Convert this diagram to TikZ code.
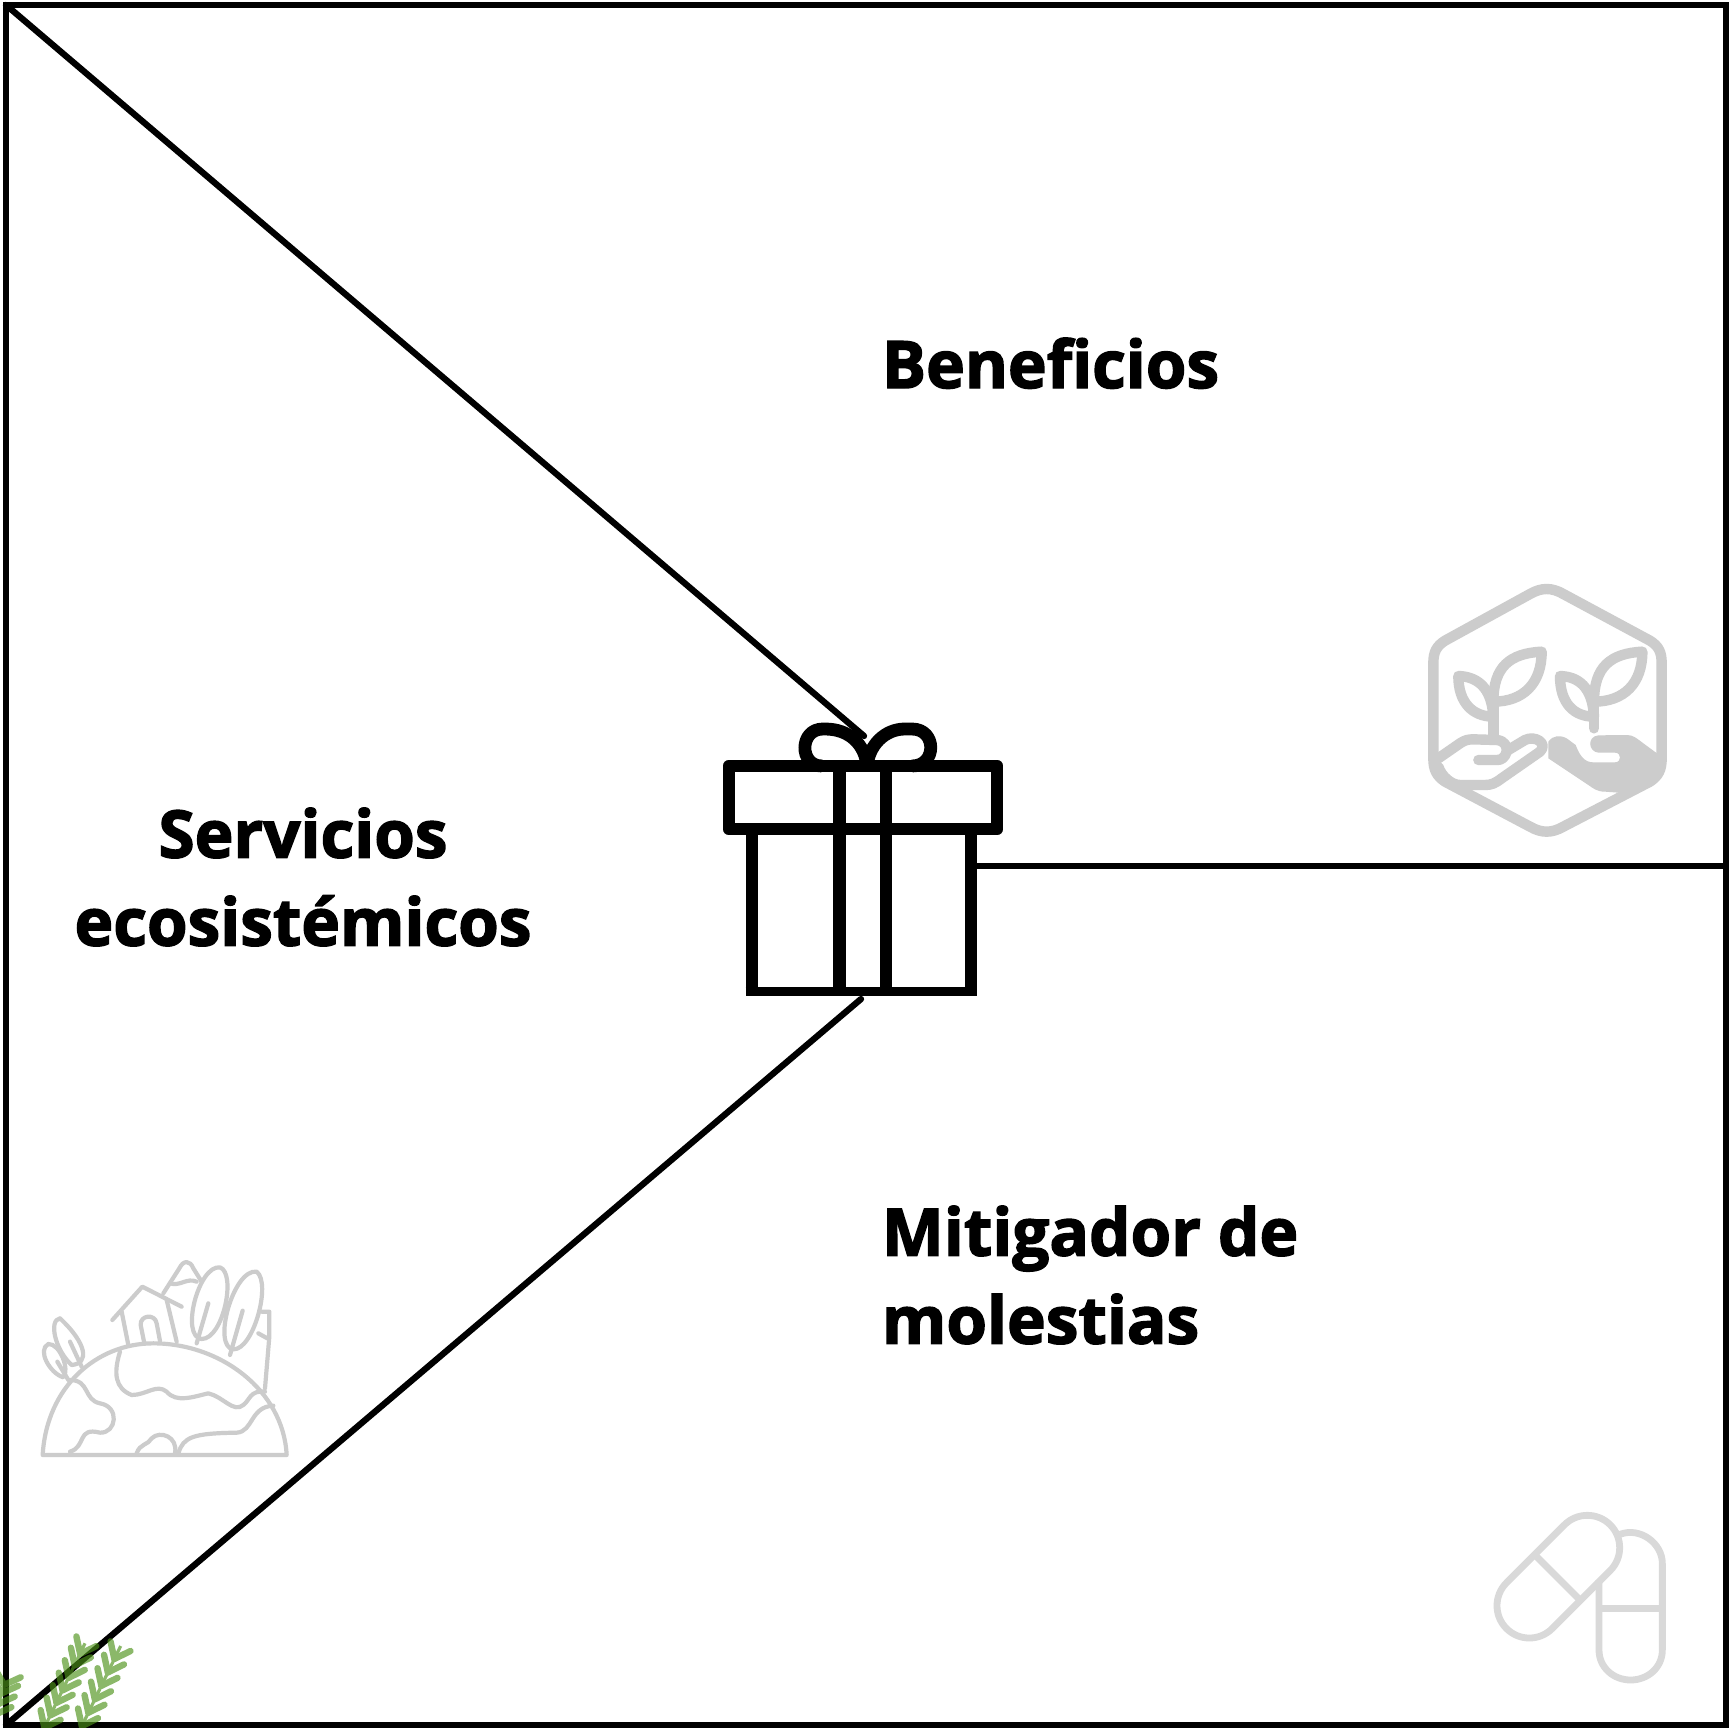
\documentclass[tikz,border=0pt]{standalone}
\usepackage{fontspec}
\usetikzlibrary{calc}
\setmainfont{Open Sans}[BoldFeatures={FakeBold=2.2}]
\definecolor{hexgray}{HTML}{CCCCCC}
\definecolor{pillgray}{HTML}{D9D9D9}
\definecolor{sprig}{RGB}{77,146,26}
\tikzset{
  frameline/.style={draw=black,line width=3.15pt,line join=miter},
  giftline/.style={draw=black,line width=6.4pt,line join=round},
  hexline/.style={draw=hexgray,line width=5.2pt,line cap=round,line join=round},
  earthline/.style={draw=hexgray,line width=2.1pt,line cap=round,line join=round},
  pillline/.style={draw=pillgray,line width=3.4pt,line join=round},
  label/.style={font=\fontsize{32.8}{44}\selectfont\bfseries,text=black,inner sep=0pt,outer sep=0pt},
  leaflet/.style={draw=sprig,line width=3.2pt,line cap=round},
  stem/.style={draw=sprig,line width=1.6pt}
}
\newcommand{\leafrow}[5]{% A, B, list, length, angle
  \foreach \t in {#3}{
    \coordinate (P) at ($(#1)!\t!(#2)$);
    \draw[leaflet] (P) -- ($(P)!#4!#5:(#2)$);
    \draw[leaflet] (P) -- ($(P)!#4!-#5:(#2)$);
  }
}
\begin{document}
\begin{tikzpicture}[x=0.5pt,y=-0.5pt]
\useasboundingbox (0,0) rectangle (1729,1728);
\fill[white] (0,0) rectangle (1729,1728);
% frame
\coordinate (tl) at (6,5);
\coordinate (tr) at (1726,5);
\coordinate (br) at (1726,1725);
\coordinate (bl) at (6,1725);
\coordinate (bowtip) at (864,736);
\coordinate (giftbase) at (861,999);
\coordinate (giftside) at (975,866);
\coordinate (rightmid) at (1726,866);
\draw[frameline] (tl) -- (tr) -- (br) -- (bl) -- cycle;
\draw[frameline,line cap=round] (tl) -- (bowtip);
\draw[frameline,line cap=round] (bl) -- (giftbase);
\draw[frameline] (giftside) -- (rightmid);
% gift
\draw[giftline] (729,766) rectangle (997,829);
\draw[giftline] (752,829) -- (752,993);
\draw[giftline] (971,829) -- (971,993);
\draw[draw=black,line width=4.5pt] (745.6,991.5) -- (977.4,991.5);
\draw[giftline] (839.5,766) -- (839.5,990);
\draw[giftline] (886,766) -- (886,990);
\draw[giftline] (867,766) .. controls (865,745) and (850,729) .. (825,729) -- (823,729) .. controls (799,729) and (799,766) .. (822,766);
\draw[giftline] (867,766) .. controls (869,745) and (885,729) .. (905,729) -- (912,729) .. controls (937,729) and (937,766) .. (912,766);
% hexagon icon
\begin{scope}[shift={(1410,570)},scale=1/3]
\draw[hexline] (360,72) .. controls (395,52) and (425,52) .. (460,72) -- (720,212) .. controls (745,228) and (755,245) .. (755,280) -- (755,565) .. controls (755,600) and (745,618) .. (720,635) -- (460,770) .. controls (425,790) and (395,790) .. (360,770) -- (105,635) .. controls (80,618) and (70,600) .. (70,565) -- (70,280) .. controls (70,245) and (80,228) .. (105,212) -- cycle;
% left hand
\draw[hexline] (85,565) -- (150,520) .. controls (165,510) and (175,508) .. (190,508) -- (260,510) .. controls (285,512) and (292,530) .. (290,545) .. controls (285,562) and (275,570) .. (262,570) -- (205,570);
\draw[hexline] (295,540) -- (345,510) .. controls (375,495) and (415,520) .. (390,545) -- (275,625) .. controls (255,640) and (245,645) .. (225,645) -- (150,645) .. controls (125,645) and (95,620) .. (85,590);
% right hand (filled)
\fill[hexgray] (415,515) .. controls (430,495) and (450,495) .. (470,505) -- (497,525) .. controls (510,560) and (525,577) .. (550,577) -- (615,577) .. controls (635,577) and (635,548) .. (615,548) -- (565,548) .. controls (535,545) and (530,500) .. (565,496) -- (650,495) .. controls (670,495) and (680,505) .. (700,520) -- (745,553) -- (755,590) .. controls (745,620) and (730,630) .. (700,645) -- (625,668) -- (585,665) .. controls (560,665) and (550,655) .. (535,645) -- (415,565) -- cycle;
% left sprout
\draw[hexline] (250,500) -- (250,400);
\draw[hexline] (250,395) .. controls (250,290) and (300,250) .. (395,245) .. controls (395,340) and (340,395) .. (250,395) -- cycle;
\draw[hexline] (250,440) .. controls (190,440) and (145,400) .. (145,318) .. controls (200,320) and (245,350) .. (250,440) -- cycle;
% right sprout
\draw[hexline] (552,475) -- (552,400);
\draw[hexline] (552,395) .. controls (552,290) and (602,250) .. (697,245) .. controls (697,340) and (642,395) .. (552,395) -- cycle;
\draw[hexline] (552,440) .. controls (492,440) and (450,400) .. (450,318) .. controls (505,320) and (547,350) .. (552,440) -- cycle;
\end{scope}
% earth icon
\begin{scope}[shift={(20,1240)},scale=1/3]
\draw[earthline] (68,645) -- (800,645) .. controls (790,450) and (600,310) .. (400,310) .. controls (230,310) and (80,440) .. (68,645);
\draw[earthline] (300,335) .. controls (280,400) and (285,445) .. (335,465) .. controls (380,465) and (410,430) .. (440,455) .. controls (470,490) and (520,470) .. (565,460) .. controls (610,470) and (640,520) .. (670,495) .. controls (690,480) and (690,450) .. (735,455);
\draw[earthline] (475,640) .. controls (490,590) and (520,580) .. (650,578) .. controls (700,575) and (690,500) .. (760,497);
\draw[earthline] (150,420) .. controls (210,420) and (190,480) .. (240,490) .. controls (300,500) and (290,580) .. (240,578) .. controls (170,560) and (200,620) .. (150,635);
\draw[earthline] (350,640) .. controls (360,610) and (385,615) .. (395,595) .. controls (420,570) and (475,590) .. (465,640);
% house
\draw[earthline] (277,240) -- (367,140) -- (485,200);
\draw[earthline] (305,215) -- (325,315);
\draw[earthline] (440,180) -- (470,305);
\draw[earthline] (372,305) -- (362,255) .. controls (360,225) and (405,220) .. (410,250) -- (420,303);
% mountain
\draw[earthline] (430,160) -- (478,85) .. controls (490,60) and (510,60) .. (520,85) -- (545,125);
\draw[earthline] (450,130) .. controls (480,140) and (500,112) .. (530,125);
% trees
\draw[earthline] (600,82) .. controls (650,100) and (610,297) .. (545,297) .. controls (480,290) and (535,75) .. (600,82);
\draw[earthline] (565,190) -- (530,310);
\draw[earthline] (710,95) .. controls (755,130) and (700,330) .. (640,328) .. controls (575,320) and (640,85) .. (710,95);
\draw[earthline] (668,212) -- (630,345);
\draw[earthline] (725,215) -- (748,215) -- (748,290) -- (735,445);
\draw[earthline] (715,280) -- (742,295);
\draw[earthline] (120,235) .. controls (85,240) and (105,330) .. (155,375) .. controls (210,370) and (200,310) .. (120,235);
\draw[earthline] (85,312) .. controls (50,330) and (90,400) .. (130,412) .. controls (150,390) and (120,310) .. (85,312);
\draw[earthline] (150,305) -- (185,380);
\draw[earthline] (112,365) -- (145,420);
\end{scope}
% pills
\begin{scope}[shift={(1470,1490)},scale=1/3]
\draw[pillline] (450,133) .. controls (510,110) and (577,160) .. (577,220) -- (577,480) .. controls (577,532) and (534,570) .. (482,570) .. controls (430,570) and (387,532) .. (387,480) -- (387,270);
\draw[pillline] (387,355) -- (577,355);
\draw[pillline] (283.4,104.4) .. controls (321.3,66.5) and (382.7,66.5) .. (420.6,104.4) .. controls (458.5,142.3) and (458.5,203.7) .. (420.6,241.6) -- (246.6,415.6) .. controls (208.7,453.5) and (147.3,453.5) .. (109.4,415.6) .. controls (71.5,377.7) and (71.5,316.3) .. (109.4,278.4) -- cycle;
\draw[pillline] (200,200) -- (325,325);
\end{scope}
% sprigs
\begin{scope}[shift={(0,1610)},scale=1/3,transparency group,opacity=.65]
\coordinate (a1) at (-20,330); \coordinate (b1) at (30,170);
\coordinate (a2) at (125,370); \coordinate (b2) at (290,30);
\coordinate (a3) at (235,370); \coordinate (b3) at (385,60);
\coordinate (e2) at (255,100); \coordinate (e3) at (362,108);
\draw[stem] (a2) -- (e2);
\draw[stem] (a3) -- (e3);
\draw[stem] (a1) -- ($(a1)!.7!(b1)$);
\leafrow{a1}{b1}{0.1,0.3,0.5,0.66}{27pt}{48}
\leafrow{a2}{b2}{0.05,0.16,0.27,0.38,0.49,0.60,0.70}{27pt}{38}
\leafrow{a3}{b3}{0.07,0.2,0.33,0.46,0.59,0.72}{27pt}{38}
\end{scope}
% labels
\node[label,anchor=base west] (beneficios) at (882,388) {Beneficios};
\node[label,align=center] (servicios) at (303,877) {Servicios\\ecosistémicos};
\node[label,align=left,anchor=west] (mitigador) at (882,1275) {Mitigador de\\molestias};
\end{tikzpicture}
\end{document}
